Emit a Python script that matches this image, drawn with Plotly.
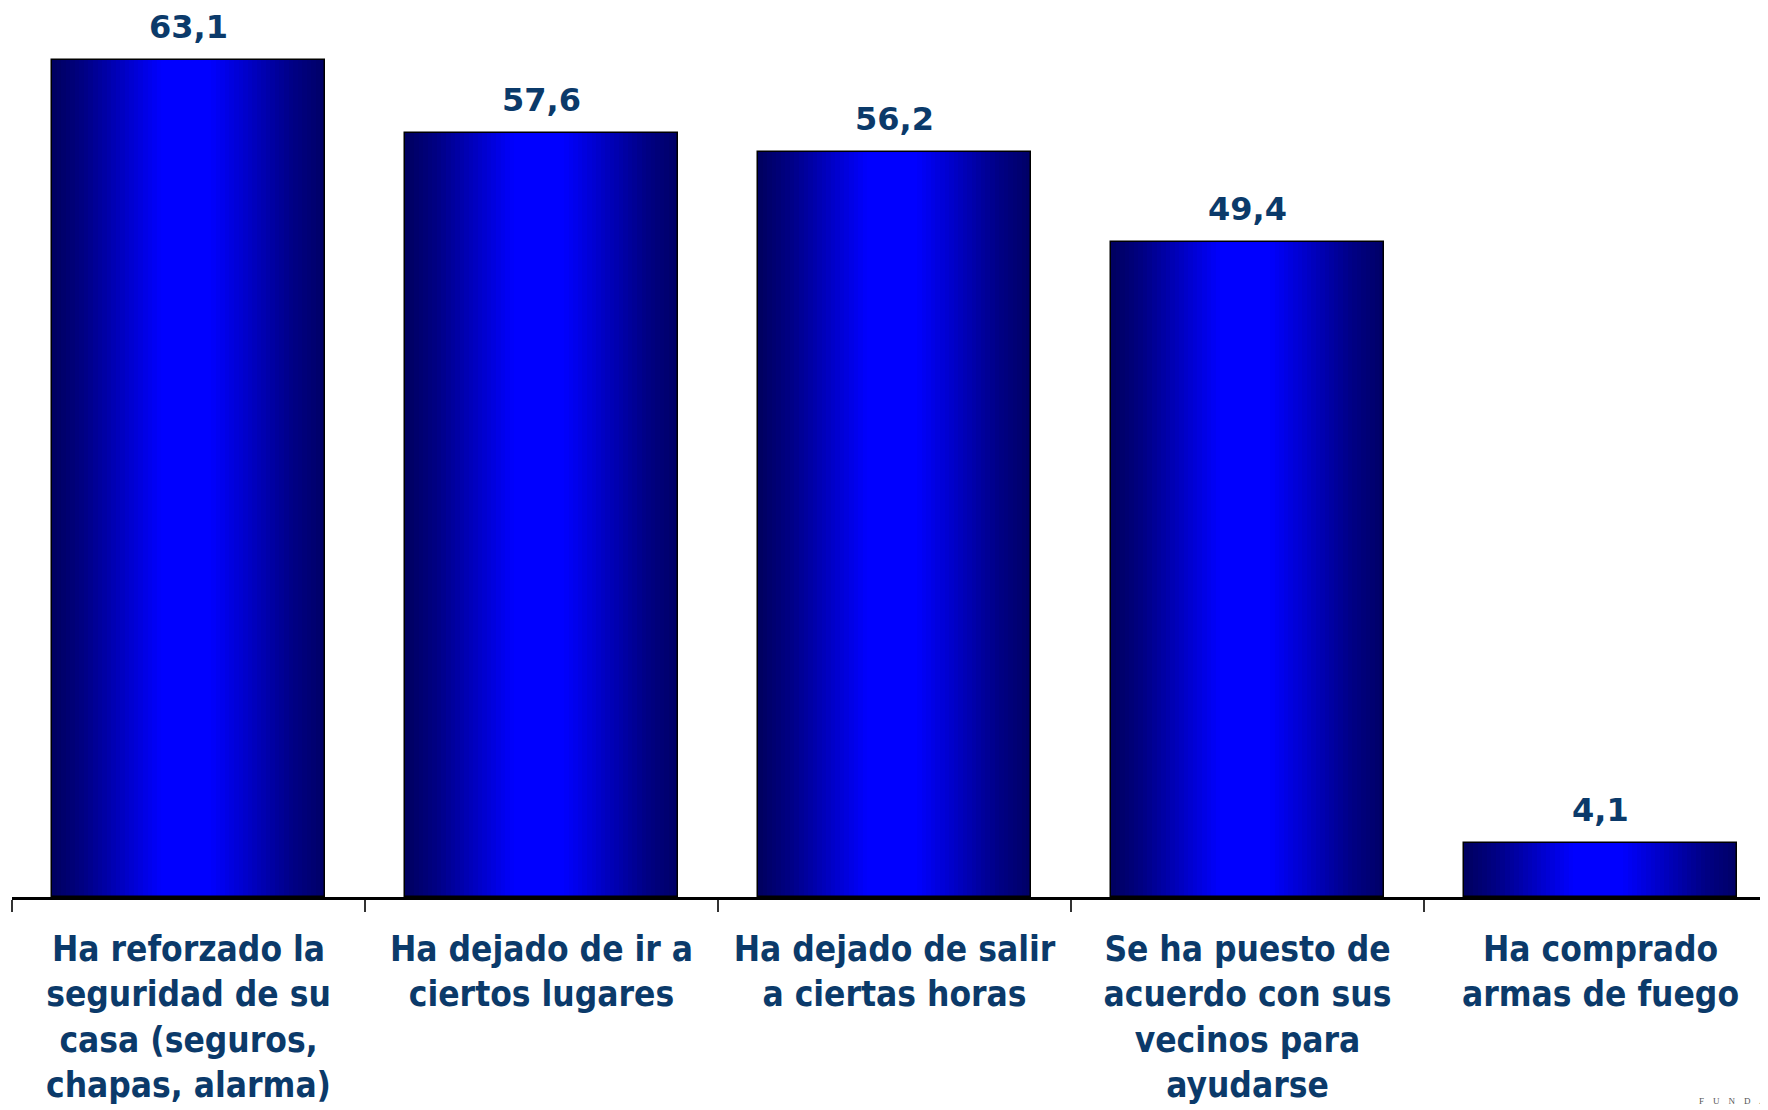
import plotly.graph_objects as go

categories = [
    "Ha reforzado la<br>seguridad de su<br>casa (seguros,<br>chapas, alarma)",
    "Ha dejado de ir a<br>ciertos lugares",
    "Ha dejado de salir<br>a ciertas horas",
    "Se ha puesto de<br>acuerdo con sus<br>vecinos para<br>ayudarse",
    "Ha comprado<br>armas de fuego",
]
values = [63.1, 57.6, 56.2, 49.4, 4.1]
labels = [f"{v:.1f}".replace(".", ",") for v in values]

W, H = 1768, 1110
TXT = "#0B3A6A"
FONT = "DejaVu Sans"
bw = 0.773
N = 60

def shade(t):
    # brightness profile across bar width (dark navy edges, bright blue centre)
    pts = [(0.0, 0x5E), (0.12, 0x85), (0.40, 0xFF), (0.58, 0xFF), (0.88, 0x85), (1.0, 0x66)]
    for (t0, b0), (t1, b1) in zip(pts[:-1], pts[1:]):
        if t0 <= t <= t1:
            b = b0 + (b1 - b0) * (t - t0) / (t1 - t0)
            break
    return f"rgb(0,0,{int(round(b))})"

fig = go.Figure()
for i in range(N):
    t = (i + 0.5) / N
    fig.add_trace(go.Bar(
        x=categories, y=values, width=[bw / N * 1.02] * len(categories),
        offset=-bw / 2 + i * bw / N,
        marker=dict(color=shade(t), line=dict(width=0)),
        hoverinfo="skip", showlegend=False,
    ))
fig.add_trace(go.Bar(
    x=categories, y=values, width=[bw] * len(categories), offset=-bw / 2,
    marker=dict(color="rgba(0,0,0,0)", line=dict(color="#000000", width=1.5)),
    showlegend=False,
))
for c, v, lab in zip(categories, values, labels):
    fig.add_annotation(x=c, y=v, text=lab, showarrow=False, yanchor="bottom", yshift=12,
                       font=dict(family=FONT, size=32, color=TXT, weight="bold"))

fig.add_annotation(xref="paper", yref="paper", x=1.0, y=-0.2373, xanchor="right", yanchor="bottom",
                   text="F    U    N    D    A", showarrow=False,
                   font=dict(family="Liberation Serif", size=9, color="#555555"))

fig.update_layout(
    width=W, height=H, barmode="overlay", bargap=0,
    paper_bgcolor="white", plot_bgcolor="white",
    margin=dict(l=4, r=8, t=0, b=221),
    xaxis=dict(
        type="category",
        range=[-0.5, -0.5 + 1756 / 353],
        showline=True, linecolor="#000000", linewidth=2.5,
        ticks="outside", tickson="boundaries", ticklen=12, tickwidth=2, tickcolor="#333333",
        ticklabelstandoff=19,
        tickfont=dict(family="DejaVu Sans Condensed, DejaVu Sans", size=35, color=TXT, weight="bold"),
        showgrid=False, zeroline=False,
    ),
    yaxis=dict(range=[0, 889 / 13.265], visible=False, showgrid=False, zeroline=False),
)
fig.write_html("out.html")
